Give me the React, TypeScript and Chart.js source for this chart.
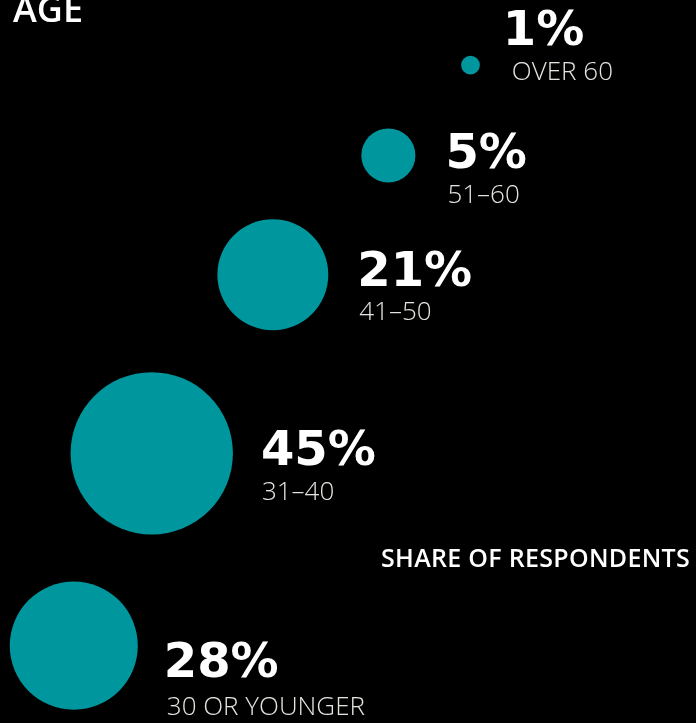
import React, { useEffect, useRef } from "react";
import { Chart, registerables } from "chart.js";

Chart.register(...registerables);

// ---- data ----
const ageGroups = ["30 OR YOUNGER", "31–40", "41–50", "51–60", "OVER 60"];
const shareLabels = ["28%", "45%", "21%", "5%", "1%"];
const shareValues = [28, 45, 21, 5, 0.6];
// bubble placement in chart units (x: 0–100 left→right, y: 0–100 top→bottom)
const bubbleX = [10.6, 21.8, 39.2, 55.8, 67.6];
const bubbleY = [89.3, 62.7, 38.0, 21.5, 9.0];

const titleText = "AGE";
const measureText = "SHARE OF RESPONDENTS";

// ---- layout / style ----
const TEAL = "#00969D";
const LABEL_COLOR = "#E6E4DE";
const FONT = "'Open Sans', 'Noto Sans', sans-serif";
const BOLD_FONT = "'DejaVu Sans', 'Open Sans', sans-serif";
const RADIUS_PER_SQRT = 12.1;
// per-bubble text offsets: [gap from bubble edge, value baseline dy, label dx, label baseline dy]
const textOffsets = [
  [28, 31, 2, 69],
  [30, 11.5, 0, 46.5],
  [31, 11, 1, 45],
  [32, 12.5, 1, 47.5],
  [25, -20, 8, 15],
];

const W = 696;
const H = 723;

const textPlugin = {
  id: "bubbleText",
  afterDatasetsDraw(chart: any) {
    const { ctx } = chart;
    const meta = chart.getDatasetMeta(0);
    ctx.save();
    ctx.textBaseline = "alphabetic";
    ctx.textAlign = "left";
    meta.data.forEach((el: any, i: number) => {
      const r = el.options.radius;
      const [gap, dy, ldx, ldy] = textOffsets[i];
      const tx = el.x + r + gap;
      ctx.fillStyle = "#FFFFFF";
      ctx.font = `bold 48px ${BOLD_FONT}`;
      ctx.fillText(shareLabels[i], tx - 2, el.y + dy);
      ctx.fillStyle = LABEL_COLOR;
      ctx.font = `300 26px ${FONT}`;
      ctx.fillText(ageGroups[i], tx + ldx - 1, el.y + ldy);
    });
    ctx.fillStyle = "#FFFFFF";
    ctx.font = `600 36px ${FONT}`;
    ctx.fillText(titleText, 13, 22);
    ctx.font = `600 25px ${FONT}`;
    (ctx as any).letterSpacing = "0.3px";
    ctx.textAlign = "right";
    ctx.fillText(measureText, 690, 567);
    ctx.restore();
  },
};

export default function App() {
  const ref = useRef<HTMLCanvasElement>(null);
  useEffect(() => {
    document.body.style.margin = "0";
    document.body.style.background = "#000";
    const data = shareValues.map((v, i) => ({
      x: bubbleX[i],
      y: bubbleY[i],
      r: RADIUS_PER_SQRT * Math.sqrt(v),
    }));
    const chart = new Chart(ref.current!, {
      type: "bubble",
      data: {
        labels: ageGroups,
        datasets: [
          {
            data,
            backgroundColor: TEAL,
            borderColor: TEAL,
            borderWidth: 0,
            hoverBorderWidth: 0,
          },
        ],
      },
      options: {
        responsive: false,
        animation: false,
        layout: { padding: 0, autoPadding: false },
        clip: false as any,
        scales: {
          x: { type: "linear", min: 0, max: 100, display: false },
          y: { type: "linear", min: 0, max: 100, reverse: true, display: false },
        },
        plugins: {
          legend: { display: false },
          tooltip: { enabled: false },
          title: { display: false },
        },
      },
      plugins: [textPlugin],
    });
    return () => chart.destroy();
  }, []);
  return (
    <div style={{ width: W, height: H, background: "#000" }}>
      <canvas ref={ref} width={W} height={H} />
    </div>
  );
}
